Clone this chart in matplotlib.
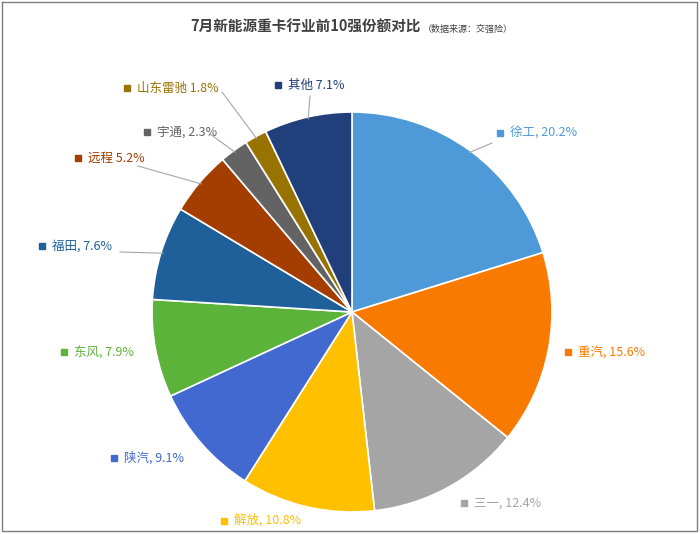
import matplotlib.pyplot as plt
import numpy as np

plt.rcParams['font.family'] = ['Noto Sans CJK SC', 'DejaVu Sans']

# ── Data ──────────────────────────────────────────────────────────────────────
brands = ['徐工', '重汽', '三一', '解放', '陕汽', '东风', '福田', '远程', '宇通', '山东雷驰', '其他']
shares = [20.2, 15.6, 12.4, 10.8, 9.1, 7.9, 7.6, 5.2, 2.3, 1.8, 7.1]
colors = ['#4E9AD9', '#F97A00', '#A5A5A5', '#FFC000', '#4169CF', '#5BB33A',
          '#1F5F9A', '#A43E00', '#636363', '#997300', '#213F7A']
label_text = ['徐工, 20.2%', '重汽, 15.6%', '三一, 12.4%', '解放, 10.8%', '陕汽, 9.1%',
              '东风, 7.9%', '福田, 7.6%', '远程 5.2%', '宇通, 2.3%', '山东雷驰 1.8%', '其他 7.1%']
# label marker position (pixels)
label_px = [(500, 133), (568, 352), (464, 503), (224, 521), (114, 458), (64, 352),
            (42, 246), (78, 158), (147, 132), (127, 88), (278, 85)]
# leader line start (pixels) or None
leader_px = [(492, 143), None, None, None, None, None,
             (120, 252), (138, 166), (210, 134), (222, 92), (310, 96)]

CX, CY, R = 352, 312, 200
W, H = 700, 534

fig = plt.figure(figsize=(7, 5.34), dpi=100)
ax = fig.add_axes([0, 0, 1, 1])

def px(x, y):
    return (x - CX) / R, (CY - y) / R

wedges, _ = ax.pie(shares, colors=colors, startangle=90, counterclock=False,
                   radius=1.0, wedgeprops=dict(edgecolor='white', linewidth=1.2))
ax.set_xlim(-CX / R, (W - CX) / R)
ax.set_ylim(-(H - CY) / R, CY / R)
ax.set_aspect('auto')
ax.axis('off')

for w, txt, (lx, ly), col, lp in zip(wedges, label_text, label_px, colors, leader_px):
    mx, my = px(lx, ly)
    ax.plot(mx, my, marker='s', ms=4, color=col)
    ax.text(mx + 0.05, my, txt, color=col, fontsize=9, va='center', ha='left')
    if lp is not None:
        ang = np.deg2rad((w.theta1 + w.theta2) / 2)
        ex, ey = 0.99 * np.cos(ang), 0.99 * np.sin(ang)
        sx, sy = px(*lp)
        ax.plot([sx, ex], [sy, ey], color='#A6A6A6', lw=0.8)

ax.text(*px(421, 27), '7月新能源重卡行业前10强份额对比', fontsize=10.5, color='#404040',
        ha='right', va='center', fontweight='bold')
ax.text(*px(423, 29), '（数据来源：交强险）', fontsize=6.5, color='#404040',
        ha='left', va='center')

# outer frame
fx = [2, 697, 697, 2, 2]
fy = [2, 2, 531, 531, 2]
ax.plot([px(x, 0)[0] for x in fx], [px(0, y)[1] for y in fy], color='#7F7F7F', lw=1)

fig.savefig('out.png')
